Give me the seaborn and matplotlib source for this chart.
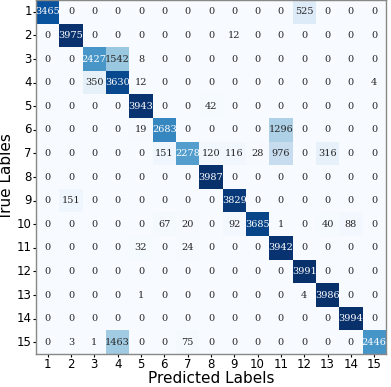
import numpy as np
import pandas as pd
import matplotlib
matplotlib.use('Agg')
import matplotlib.pyplot as plt
import seaborn as sns

# Etiquetas de las clases
labels = [str(i) for i in range(1, 16)]

# Filas de la matriz de confusion (clase real)
row_1 = [3465, 0, 0, 0, 0, 0, 0, 0, 0, 0, 0, 525, 0, 0, 0]
row_2 = [0, 3975, 0, 0, 0, 0, 0, 0, 12, 0, 0, 0, 0, 0, 0]
row_3 = [0, 0, 2427, 1542, 8, 0, 0, 0, 0, 0, 0, 0, 0, 0, 0]
row_4 = [0, 0, 350, 3630, 12, 0, 0, 0, 0, 0, 0, 0, 0, 0, 4]
row_5 = [0, 0, 0, 0, 3943, 0, 0, 42, 0, 0, 0, 0, 0, 0, 0]
row_6 = [0, 0, 0, 0, 19, 2683, 0, 0, 0, 0, 1296, 0, 0, 0, 0]
row_7 = [0, 0, 0, 0, 0, 151, 2278, 120, 116, 28, 976, 0, 316, 0, 0]
row_8 = [0, 0, 0, 0, 0, 0, 0, 3987, 0, 0, 0, 0, 0, 0, 0]
row_9 = [0, 151, 0, 0, 0, 0, 0, 0, 3829, 0, 0, 0, 0, 0, 0]
row_10 = [0, 0, 0, 0, 0, 67, 20, 0, 92, 3685, 1, 0, 40, 88, 0]
row_11 = [0, 0, 0, 0, 32, 0, 24, 0, 0, 0, 3942, 0, 0, 0, 0]
row_12 = [0, 0, 0, 0, 0, 0, 0, 0, 0, 0, 0, 3991, 0, 0, 0]
row_13 = [0, 0, 0, 0, 1, 0, 0, 0, 0, 0, 0, 4, 3986, 0, 0]
row_14 = [0, 0, 0, 0, 0, 0, 0, 0, 0, 0, 0, 0, 0, 3994, 0]
row_15 = [0, 3, 1, 1463, 0, 0, 75, 0, 0, 0, 0, 0, 0, 0, 2446]

cm = pd.DataFrame([row_1, row_2, row_3, row_4, row_5, row_6, row_7, row_8,
                   row_9, row_10, row_11, row_12, row_13, row_14, row_15],
                  index=labels, columns=labels)

fig = plt.figure(figsize=(3.91, 3.87), dpi=100)
ax = fig.add_axes([0.092, 0.085, 0.895, 0.915])

sns.heatmap(cm, annot=True, fmt='d', cmap='Blues', cbar=False,
            annot_kws={'fontsize': 7, 'family': 'DejaVu Serif'}, ax=ax)

for spine in ax.spines.values():
    spine.set_visible(True)
    spine.set_color('#888888')
    spine.set_linewidth(1)

ax.tick_params(axis='both', labelsize=8.5, length=2, pad=1)
plt.setp(ax.get_yticklabels(), rotation=0)
plt.setp(ax.get_xticklabels(), rotation=0)
ax.set_xlabel('Predicted Labels', fontsize=11, labelpad=0)
ax.set_ylabel('True Lables', fontsize=11, labelpad=2)

fig.savefig('out.png', dpi=100)
